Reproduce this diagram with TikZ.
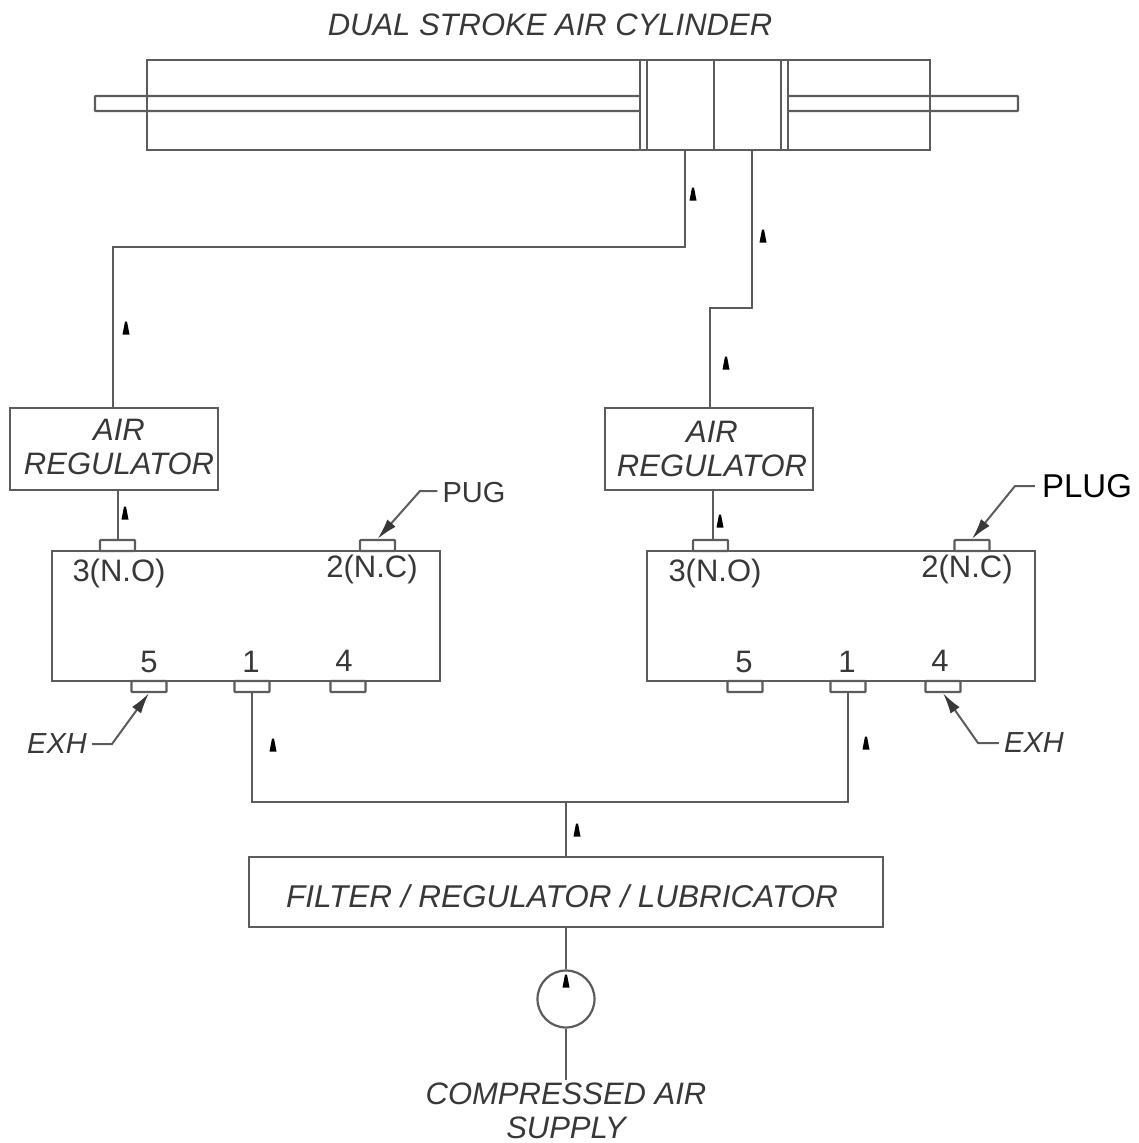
\documentclass[tikz,border=0pt]{standalone}
\usepackage{fontspec}
\setmainfont{Liberation Sans}
\usetikzlibrary{arrows.meta}
\definecolor{ln}{gray}{0.36}
\definecolor{tx}{gray}{0.22}
\tikzset{
  wire/.style={draw=ln,line width=2.2pt},
  boxn/.style={draw=ln,line width=2.2pt,fill=white,inner sep=0pt,rounded corners=0.8pt},
  port/.style={boxn,minimum width=35pt,minimum height=11pt},
  txt/.style={inner sep=0pt,text=tx,font=\fontsize{31}{34}\selectfont\itshape,align=center},
  lab/.style={inner sep=0pt,text=tx,font=\fontsize{31}{34}\selectfont},
  lead/.style={draw=ln,line width=2pt,-{Latex[length=21pt,width=11pt,color=tx]}},
  flow/.pic={\fill[black] (-3.5,6.5) -- (-1,-6.5) -- (1,-6.5) -- (3.5,6.5) -- cycle;}
}
\begin{document}
\begin{tikzpicture}[x=1pt,y=-1pt]
\useasboundingbox (0,0) rectangle (1138,1143);
% rod and cylinder
\node[boxn,minimum width=923pt,minimum height=15pt] (rod) at (556.5,103.5) {};
\node[draw=ln,line width=2.2pt,inner sep=0pt,minimum width=783pt,minimum height=90pt] (cyl) at (538.5,105) {};
\node[boxn,rounded corners=0pt,minimum width=141pt,minimum height=90pt] (mid) at (714,105) {};
\node[boxn,rounded corners=0pt,minimum width=7pt,minimum height=90pt] (pl) at (643.5,105) {};
\node[boxn,rounded corners=0pt,minimum width=7pt,minimum height=90pt] (pr) at (784.5,105) {};
\coordinate (divt) at (714,60);
\coordinate (divb) at (714,150);
\draw[wire] (divt) -- (divb);
\coordinate (cylL) at (685,150);
\coordinate (cylR) at (752,150);
\coordinate (kneeL) at (685,247);
\coordinate (kneeR) at (752,308);
% regulators
\node[boxn,rounded corners=0pt,minimum width=208pt,minimum height=82pt] (regL) at (114,449) {};
\node[boxn,rounded corners=0pt,minimum width=208pt,minimum height=82pt] (regR) at (709,449) {};
\node[txt] (regLt) at (119,447) {AIR\\REGULATOR};
\node[txt] (regRt) at (712,449) {AIR\\REGULATOR};
% valves
\node[boxn,rounded corners=0pt,minimum width=388pt,minimum height=130pt] (valL) at (246,616) {};
\node[boxn,rounded corners=0pt,minimum width=388pt,minimum height=130pt] (valR) at (841,616) {};
% ports
\node[port] (l3) at (117.5,545.5) {};
\node[port] (l2) at (377.5,545.5) {};
\node[port] (r3) at (710.5,545.5) {};
\node[port] (r2) at (972,545.5) {};
\node[port] (l5) at (149,686.5) {};
\node[port] (l1) at (252,686.5) {};
\node[port] (l4) at (348,686.5) {};
\node[port] (r5) at (745,686.5) {};
\node[port] (r1) at (848,686.5) {};
\node[port] (r4) at (943,686.5) {};
% port labels
\node[lab] (tl3) at (119,573) {3(N.O)};
\node[lab] (tl2) at (372,569) {2(N.C)};
\node[lab] (tr3) at (715,573) {3(N.O)};
\node[lab] (tr2) at (967,569) {2(N.C)};
\node[lab] (tl5) at (149,662) {5};
\node[lab] (tl1) at (251,662) {1};
\node[lab] (tl4) at (344,661) {4};
\node[lab] (tr5) at (744,662) {5};
\node[lab] (tr1) at (847,662) {1};
\node[lab] (tr4) at (940,661) {4};
% filter, pump
\node[boxn,rounded corners=0pt,minimum width=634pt,minimum height=70pt] (frl) at (566,892) {};
\node[txt,font=\fontsize{31.5}{34}\selectfont\itshape] (frlt) at (562,896) {FILTER / REGULATOR / LUBRICATOR};
\node[draw=ln,line width=2.2pt,circle,inner sep=0pt,minimum size=57pt] (pump) at (566,999) {};
\coordinate (supply) at (566,1080);
\coordinate (busL) at (252,802);
\coordinate (busR) at (848,802);
\coordinate (busM) at (566,802);
% connectors
\draw[wire] (cylL) -- (kneeL) -- (113,247) -- (113,408);
\draw[wire] (cylR) -- (kneeR) -- (710,308) -- (710,408);
\draw[wire] (118,490) -- (l3.north -| 118,0);
\draw[wire] (713,490) -- (r3.north -| 713,0);
\draw[wire] (l1.south) -- (busL) -- (busR) -- (r1.south);
\draw[wire] (busM) -- (frl.north -| busM);
\draw[wire] (frl.south -| pump) -- (pump.north);
\draw[wire] (pump.south) -- (supply);
% texts
\node[txt] (title) at (550,25) {DUAL STROKE AIR CYLINDER};
\node[txt] (supplyt) at (566,1110.5) {COMPRESSED AIR\\SUPPLY};
\node[txt,font=\fontsize{29}{33}\selectfont\itshape] (exhL) at (57,744) {EXH};
\node[txt,font=\fontsize{29}{33}\selectfont\itshape] (exhR) at (1034,743) {EXH};
\node[inner sep=0pt,text=tx,font=\fontsize{29}{32}\selectfont] (pug) at (474,493) {PUG};
\node[inner sep=0pt,text=black,font=\fontsize{33}{36}\selectfont] (plug) at (1087,486) {PLUG};
% leaders
\draw[lead] (exhL.east) ++(5,0) -- (112,744) -- (l5.south);
\draw[lead] (exhR.west) ++(-5,0) -- (978,743) -- (r4.south);
\draw[lead] (pug.west) ++(-5,-2) -- (420,491) -- (l2.north);
\draw[lead] (plug.west) ++(-7,0) -- (1015,486) -- (r2.north);
% flow marks
\foreach \p in {(693,194),(763,236),(126,328),(726,363),(125,513),(720,521),(273,745),(866,743),(577,830),(566,981)}
  \path \p pic {flow};
\end{tikzpicture}
\end{document}
